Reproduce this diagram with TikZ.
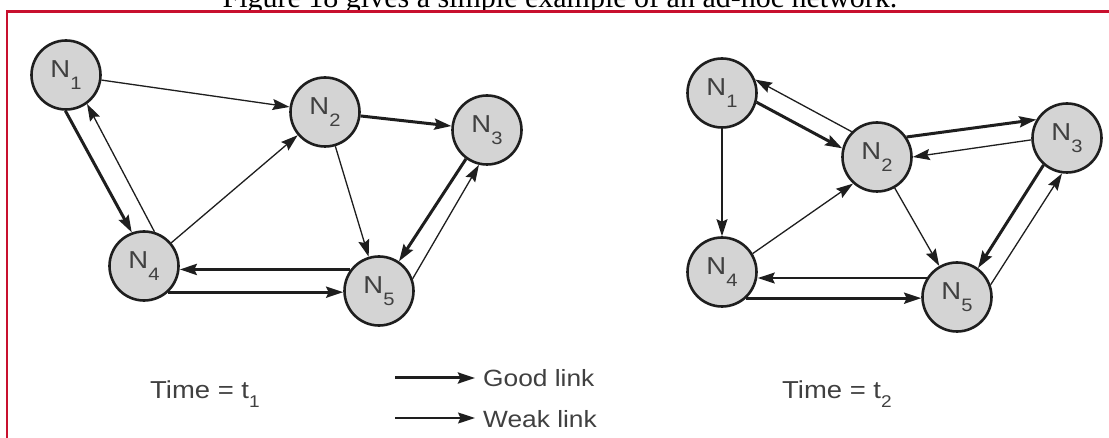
\documentclass[tikz,border=0pt]{standalone}
\usepackage{fontspec}
\setmainfont{Liberation Serif}
\newfontfamily\labfont[FakeStretch=1.12]{Liberation Sans}
\usetikzlibrary{arrows.meta}
\definecolor{ink}{HTML}{1E1E1E}
\definecolor{nodefill}{HTML}{D4D4D4}
\definecolor{framered}{HTML}{C8102E}
% node label N with a lowered index
\newcommand\nlab[1]{\labfont\fontsize{24.5}{24.5}\selectfont N\raisebox{-11.5pt}{\fontsize{18}{18}\selectfont #1}}
% time caption with a lowered index
\newcommand\tlab[1]{\labfont\fontsize{24.5}{24.5}\selectfont Time = t\raisebox{-8.5pt}{\fontsize{17}{17}\selectfont #1}}
\begin{document}
\begin{tikzpicture}[x=1pt,y=-1pt,
  station/.style={circle, draw=ink, fill=nodefill, line width=2.6pt, minimum size=69pt, inner sep=0pt, text=ink!85},
  link/.style={draw=ink, -{Stealth[length=17pt,width=11pt,inset=2.5pt]}},
  good/.style={link, line width=3pt},
  weak/.style={link, line width=1.3pt},
  caption/.style={anchor=base west, inner sep=0pt, text=ink!85}]
\useasboundingbox (0,0) rectangle (1109,438);
\clip (0,0) rectangle (1109,438);

% running text above the frame
\node[anchor=base, inner sep=0pt, font=\fontsize{30}{30}\selectfont] (intro) at (560,7.3)
  {Figure 18 gives a simple example of an ad-hoc network.};
\draw[framered, line width=2.5pt, fill=white] (7,11.7) rectangle (1130,460);

% network at time t1
\node[station] (a1) at (66,75)  {\nlab{1}};
\node[station] (a2) at (325,112) {\nlab{2}};
\node[station] (a3) at (487,130) {\nlab{3}};
\node[station] (a4) at (144,266) {\nlab{4}};
\node[station] (a5) at (379,291) {\nlab{5}};

\draw[weak] (a1) -- (a2);
\draw[good] (a1.-91) -- (a4.110);
\draw[weak] (a4.73) -- (a1.-54);
\draw[weak] (a4) -- (a2);
\draw[good] (a2) -- (a3);
\draw[weak] (a2) -- (a5);
\draw[good] (a3.-126) -- (a5.56);
\draw[weak] (a5.20) -- (a3.-103);
\draw[good] (a5.143) -- (a5.143 -| a4.east);
\draw[good] (a4.-47) -- (a4.-47 -| a5.west);

% network at time t2
\node[station] (b1) at (722,93)  {\nlab{1}};
\node[station] (b2) at (877,157) {\nlab{2}};
\node[station] (b3) at (1067,138) {\nlab{3}};
\node[station] (b4) at (722,272) {\nlab{4}};
\node[station] (b5) at (957,297) {\nlab{5}};

\draw[good] (b1.-15) -- (b2.166);
\draw[weak] (b2.135) -- (b1.22);
\draw[weak] (b1) -- (b4);
\draw[weak] (b4.31) -- (b2.-132);
\draw[good] (b2.34) -- (b3.149);
\draw[weak] (b3.183) -- (b2.0);
\draw[weak] (b2) -- (b5);
\draw[good] (b3.-131) -- (b5.54);
\draw[weak] (b5.20) -- (b3.-98);
\draw[weak] (b5.148) -- (b5.148 -| b4.east);
\draw[good] (b4.-47) -- (b4.-47 -| b5.west);

% captions
\node[caption] (t1) at (150,399) {\tlab{1}};
\node[caption] (t2) at (782,399) {\tlab{2}};

% legend
\coordinate (gs) at (395,378);
\coordinate (ge) at (475,378);
\coordinate (ws) at (395,418);
\coordinate (we) at (475,418);
\draw[good] (gs) -- (ge);
\draw[weak] (ws) -- (we);
\node[caption, font=\labfont\fontsize{23.5}{23.5}\selectfont] (gl) at (483,387) {Good link};
\node[caption, font=\labfont\fontsize{23.5}{23.5}\selectfont] (wl) at (483,427) {Weak link};
\end{tikzpicture}
\end{document}
